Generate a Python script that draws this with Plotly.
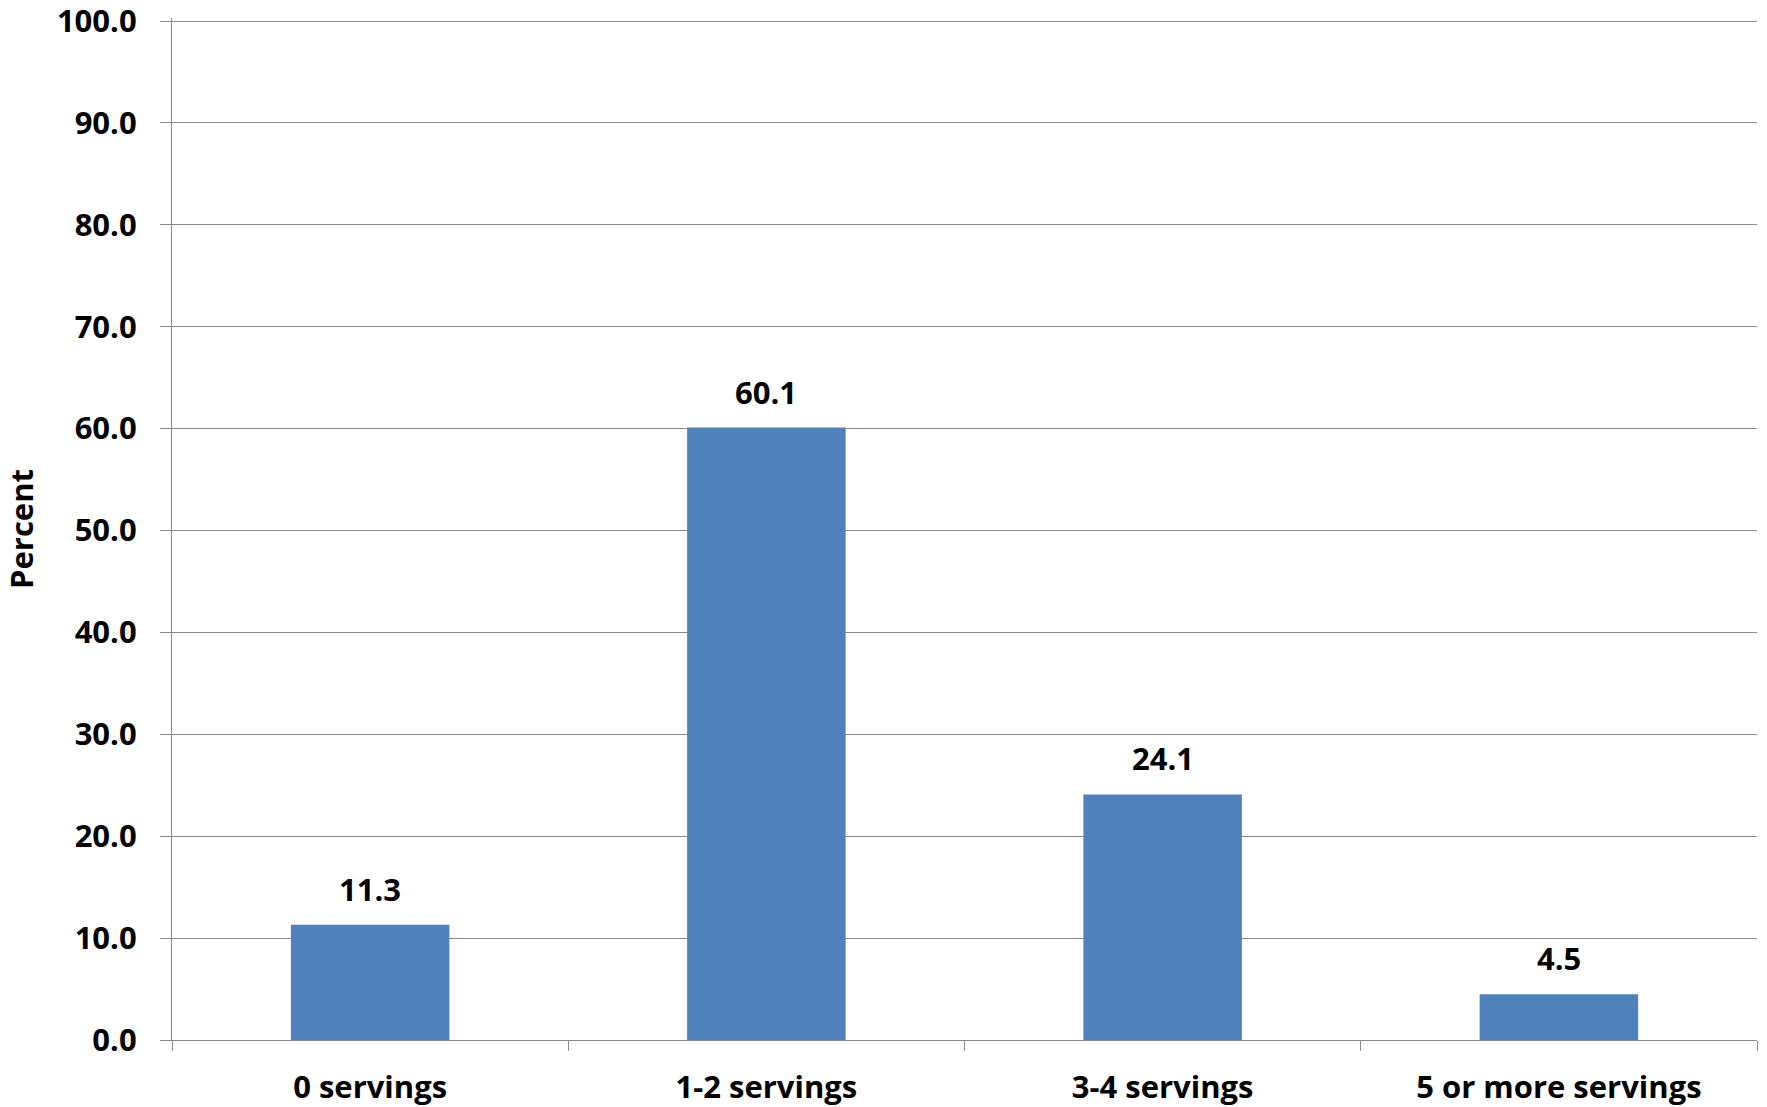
import plotly.graph_objects as go

categories = ["0 servings", "1-2 servings", "3-4 servings", "5 or more servings"]
percent = [11.3, 60.1, 24.1, 4.5]
y_ticks = [0, 10, 20, 30, 40, 50, 60, 70, 80, 90, 100]

FONT = "Open Sans, Lato, DejaVu Sans, sans-serif"
GRID = "#8a8a8a"

fig = go.Figure()
fig.add_trace(go.Bar(
    x=categories, y=percent,
    marker=dict(color="#4F81BD", line=dict(width=0)),
    width=0.4,
))

for c, v in zip(categories, percent):
    fig.add_annotation(
        x=c, y=v, text=f"{v:.1f}", showarrow=False,
        yanchor="bottom", yshift=13,
        font=dict(family=FONT, size=31, color="black", weight="bold"),
    )

fig.update_layout(
    width=1767, height=1107,
    margin=dict(l=172, r=10, t=18, b=67),
    plot_bgcolor="white", paper_bgcolor="white",
    showlegend=False,
    font=dict(family=FONT, size=31, color="black", weight="bold"),
)
fig.update_yaxes(
    range=[0, 100.3], tickvals=y_ticks, tickformat=".1f",
    showgrid=True, gridcolor=GRID, gridwidth=1.3,
    showline=True, linecolor=GRID, linewidth=1.3,
    ticks="outside", ticklen=11, tickcolor=GRID, tickwidth=1.3,
    ticklabelstandoff=17, ticklabeloverflow="allow",
    tickfont=dict(family=FONT, size=31, color="black", weight="bold"),
    title=dict(text="Percent", standoff=30,
               font=dict(family=FONT, size=31, color="black", weight="bold")),
    zeroline=False, automargin=False,
)
fig.update_xaxes(
    showline=True, linecolor=GRID, linewidth=1.3,
    ticks="outside", ticklen=10, tickcolor=GRID, tickwidth=1.3,
    tickson="boundaries", ticklabelstandoff=20,
    tickfont=dict(family=FONT, size=31, color="black", weight="bold"),
    automargin=False,
)

fig.write_html("out.html", config={"displayModeBar": False},
               post_script="document.body.style.margin='0';")
